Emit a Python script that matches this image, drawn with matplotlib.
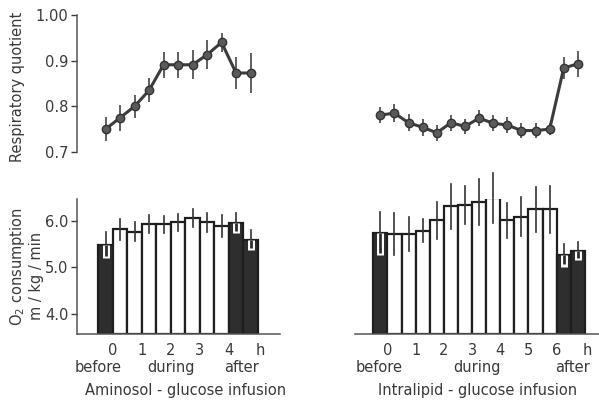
import matplotlib
matplotlib.use("Agg")
import matplotlib.pyplot as plt

# data (half-hour periods)
amino_rq = [0.750, 0.775, 0.800, 0.835, 0.891, 0.891, 0.891, 0.913, 0.940, 0.873, 0.873]
amino_rq_err = [0.027, 0.028, 0.025, 0.026, 0.028, 0.028, 0.032, 0.032, 0.020, 0.034, 0.043]
lipid_rq = [0.781, 0.785, 0.764, 0.754, 0.742, 0.764, 0.756, 0.774, 0.763, 0.759,
            0.747, 0.747, 0.750, 0.884, 0.893]
lipid_rq_err = [0.017, 0.020, 0.019, 0.018, 0.018, 0.017, 0.017, 0.017, 0.017, 0.017,
                0.016, 0.016, 0.013, 0.024, 0.028]

amino_o2 = [5.48, 5.82, 5.77, 5.93, 5.93, 5.97, 6.06, 5.97, 5.89, 5.95, 5.59]
amino_o2_err = [0.28, 0.22, 0.20, 0.20, 0.18, 0.18, 0.20, 0.20, 0.23, 0.22, 0.22]
lipid_o2 = [5.73, 5.72, 5.72, 5.79, 6.01, 6.31, 6.35, 6.40, 6.49, 6.01,
            6.09, 6.25, 6.25, 5.26, 5.35]
lipid_o2_err = [0.47, 0.45, 0.36, 0.25, 0.39, 0.49, 0.41, 0.49, 0.54, 0.38,
                0.42, 0.48, 0.51, 0.24, 0.19]

# which periods are outside the infusion (dark bars)
amino_dark = [0, 9, 10]
lipid_dark = [0, 13, 14]

amino_hours = ["0", "1", "2", "3", "4"]
lipid_hours = ["0", "1", "2", "3", "4", "5", "6"]

W, H = 599, 403
TXT = "#3a3a3a"
DARK = "#2e2e2e"
plt.rcParams['font.family'] = ['DejaVu Sans']
plt.rcParams['font.size'] = 10.5

fig = plt.figure(figsize=(W / 100, H / 100), dpi=100)


def px_axes(x0, y0, x1, y1):
    return fig.add_axes([x0 / W, 1 - y1 / H, (x1 - x0) / W, (y1 - y0) / H])


ax_rq_a = px_axes(77, 15, 280, 152)
ax_rq_l = px_axes(355, 15, 599, 152)
ax_o2_a = px_axes(77, 199, 280, 334)
ax_o2_l = px_axes(355, 199, 599, 334)

for ax in [ax_rq_a, ax_rq_l, ax_o2_a, ax_o2_l]:
    for s in ax.spines.values():
        s.set_visible(False)
    ax.set_xticks([])
    ax.set_yticks([])
    ax.patch.set_alpha(0)
    ax.tick_params(colors=TXT, labelcolor=TXT, length=4, width=1, pad=2)

ax_rq_a.set_xlim(-1.97, 12.03)
ax_o2_a.set_xlim(-1.97, 12.03)
ax_rq_l.set_xlim(-1.8, 15.5)
ax_o2_l.set_xlim(-1.8, 15.5)

# respiratory quotient
for ax, rq, err in [(ax_rq_a, amino_rq, amino_rq_err), (ax_rq_l, lipid_rq, lipid_rq_err)]:
    x = list(range(len(rq)))
    ax.errorbar(x, rq, yerr=err, fmt='none', ecolor='#444444', elinewidth=1.2, capsize=0)
    ax.plot(x, rq, '-', color='#3c3c3c', lw=2.2)
    ax.plot(x, rq, 'o', color='#5a5a5a', mec='#333333', mew=1, ms=6)
    ax.set_ylim(0.7, 1.0)

ax_rq_a.spines['left'].set_visible(True)
ax_rq_a.spines['left'].set_color('#555555')
ax_rq_a.spines['left'].set_linewidth(1.1)
ax_rq_a.set_yticks([0.7, 0.8, 0.9, 1.0], ["0.7", "0.8", "0.9", "1.00"])

# O2 consumption
for ax, o2, err, dark in [(ax_o2_a, amino_o2, amino_o2_err, amino_dark),
                          (ax_o2_l, lipid_o2, lipid_o2_err, lipid_dark)]:
    ax.set_ylim(3.57, 6.47)
    x = list(range(len(o2)))
    colors = [DARK if i in dark else 'white' for i in x]
    ax.bar(x, [v - 3.57 for v in o2], bottom=3.57, width=1.0, color=colors,
           edgecolor='#1e1e1e', linewidth=1.6, zorder=2)
    for i in x:
        top = o2[i] + err[i]
        low = o2[i] - err[i]
        ax.plot([i, i], [o2[i], top], color='#333333', lw=1.2, zorder=3, clip_on=False)
        if i in dark:
            ax.plot([i, i], [low, o2[i]], color='white', lw=5, zorder=3,
                    solid_capstyle='butt')
            ax.plot([i, i], [low + 0.05, o2[i]], color=DARK, lw=2, zorder=4,
                    solid_capstyle='butt')
        else:
            ax.plot([i, i], [low, o2[i]], color='#333333', lw=1.2, zorder=3)
    ax.spines['bottom'].set_visible(True)
    ax.spines['bottom'].set_color('#555555')
    ax.spines['bottom'].set_linewidth(1.1)

ax_o2_a.spines['left'].set_visible(True)
ax_o2_a.spines['left'].set_color('#555555')
ax_o2_a.spines['left'].set_linewidth(1.1)
ax_o2_a.set_yticks([4.0, 5.0, 6.0], ["4.0", "5.0", "6.0"])

# hour labels at period boundaries
for ax, hours, n in [(ax_o2_a, amino_hours, len(amino_o2)), (ax_o2_l, lipid_hours, len(lipid_o2))]:
    tr = ax.get_xaxis_transform()
    for k, h in enumerate(hours):
        ax.text(0.5 + 2 * k, -0.12, h, transform=tr, ha='center', va='center', color=TXT)
    ax.text(n - 0.3, -0.12, "h", transform=tr, ha='center', va='center', color=TXT)

tr = ax_o2_a.get_xaxis_transform()
ax_o2_a.text(-0.52, -0.25, "before", transform=tr, ha='center', va='center', color=TXT)
ax_o2_a.text(4.5, -0.25, "during", transform=tr, ha='center', va='center', color=TXT)
ax_o2_a.text(9.4, -0.25, "after", transform=tr, ha='center', va='center', color=TXT)
ax_o2_a.text(5.5, -0.415, "Aminosol - glucose infusion", transform=tr, ha='center',
             va='center', color=TXT)

tr = ax_o2_l.get_xaxis_transform()
ax_o2_l.text(-0.1, -0.25, "before", transform=tr, ha='center', va='center', color=TXT)
ax_o2_l.text(6.85, -0.25, "during", transform=tr, ha='center', va='center', color=TXT)
ax_o2_l.text(13.6, -0.25, "after", transform=tr, ha='center', va='center', color=TXT)
ax_o2_l.text(6.9, -0.415, "Intralipid - glucose infusion", transform=tr, ha='center',
             va='center', color=TXT)

# y labels
fig.text(18 / W, 1 - 87 / H, "Respiratory quotient", rotation=90, ha='center', va='center', color=TXT)
fig.text(18 / W, 1 - 267 / H, "O$_2$ consumption", rotation=90, ha='center', va='center', color=TXT)
fig.text(37 / W, 1 - 276 / H, "m / kg / min", rotation=90, ha='center', va='center', color=TXT)

fig.savefig("out.png", dpi=100)
